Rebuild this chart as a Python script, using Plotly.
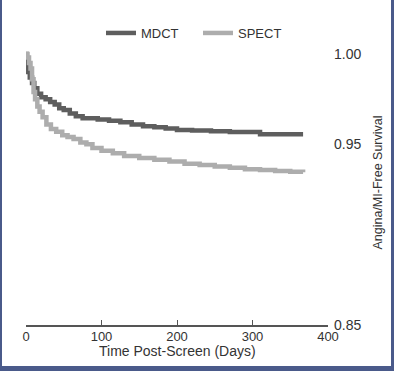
import plotly.graph_objects as go

# Kaplan-Meier style step data
mdct_days = [0, 1, 2, 3, 5, 8, 11, 15, 20, 26, 32, 38, 44, 50, 58, 66, 75, 95, 110, 125,
             140, 155, 170, 185, 200, 220, 245, 270, 310, 367]
mdct_surv = [1.000, 0.996, 0.993, 0.990, 0.987, 0.984, 0.981, 0.978, 0.976, 0.975, 0.9735,
             0.972, 0.970, 0.969, 0.967, 0.9655, 0.9645, 0.9637, 0.963, 0.9622, 0.961,
             0.960, 0.9595, 0.9588, 0.958, 0.9576, 0.9572, 0.9568, 0.9556, 0.9556]

spect_days = [0, 2, 4, 6, 8, 10, 12, 15, 18, 22, 27, 33, 40, 48, 55, 63, 72, 80, 88, 100,
              115, 130, 150, 170, 190, 210, 230, 250, 270, 290, 310, 330, 350, 367]
spect_surv = [1.000, 0.998, 0.995, 0.992, 0.986, 0.979, 0.975, 0.971, 0.968, 0.965, 0.961,
              0.9585, 0.957, 0.955, 0.954, 0.953, 0.951, 0.950, 0.948, 0.9465, 0.945,
              0.9435, 0.9425, 0.9415, 0.9405, 0.9392, 0.9385, 0.9378, 0.937, 0.9362,
              0.9358, 0.9352, 0.9348, 0.9345]

x_ticks = [0, 100, 200, 300, 400]
y_ticks = [0.85, 0.95, 1.00]
y_tick_labels = ["0.85", "0.95", "1.00"]
x_title = "Time Post-Screen (Days)"
y_title = "Angina/MI-Free Survival"

FONT = "Arial, 'Liberation Sans', sans-serif"
W, H = 394, 371
L, R, T, B = 26, 66, 40, 46
PW, PH = W - L - R, H - T - B

fig = go.Figure()
fig.add_trace(go.Scatter(x=mdct_days, y=mdct_surv, mode="lines", name="MDCT",
                         line=dict(color="#5e5e5e", width=4.5, shape="hv")))
fig.add_trace(go.Scatter(x=spect_days, y=spect_surv, mode="lines", name="SPECT",
                         line=dict(color="#adadad", width=4.5, shape="hv")))

def px_x(p):
    return (p - L) / PW

def px_y(p):
    return (H - B - p) / PH

fig.update_layout(
    width=W, height=H,
    margin=dict(l=L, r=R, t=T, b=B, pad=0),
    paper_bgcolor="#4a5a8a",
    plot_bgcolor="white",
    font=dict(family=FONT, size=13, color="#333333"),
    showlegend=True,
    legend=dict(orientation="h", x=px_x(101), xanchor="left", y=px_y(33), yanchor="middle",
                bgcolor="rgba(0,0,0,0)", font=dict(size=13, color="#333333"),
                entrywidth=52, entrywidthmode="pixels", itemwidth=30),
    shapes=[dict(type="rect", xref="paper", yref="paper",
                 x0=px_x(2), x1=px_x(391), y0=px_y(366), y1=px_y(-2),
                 fillcolor="white", line=dict(width=0), layer="below")],
    annotations=[dict(text=x_title, xref="paper", yref="paper", x=px_x(177.5), y=px_y(351),
                      xanchor="center", yanchor="middle", showarrow=False,
                      font=dict(size=14, color="#333333"))],
    xaxis=dict(range=[0, 400], tickvals=x_ticks, ticks="inside", ticklen=5,
               tickcolor="#555555", showline=True, linecolor="#555555", linewidth=1.5,
               showgrid=False, zeroline=False, ticklabelstandoff=-1,
               tickfont=dict(size=13, color="#333333")),
    yaxis=dict(range=[0.85, 1.00775], side="right", tickvals=y_ticks, ticktext=y_tick_labels,
               ticks="", showline=False, showgrid=False, zeroline=False,
               ticklabelstandoff=5,
               tickfont=dict(size=14, color="#333333"),
               title=dict(text=y_title, standoff=12,
                          font=dict(size=12.5, color="#333333"))),
)

fig.write_html("out.html", config={"displayModeBar": False},
               post_script="document.body.style.margin='0';")
